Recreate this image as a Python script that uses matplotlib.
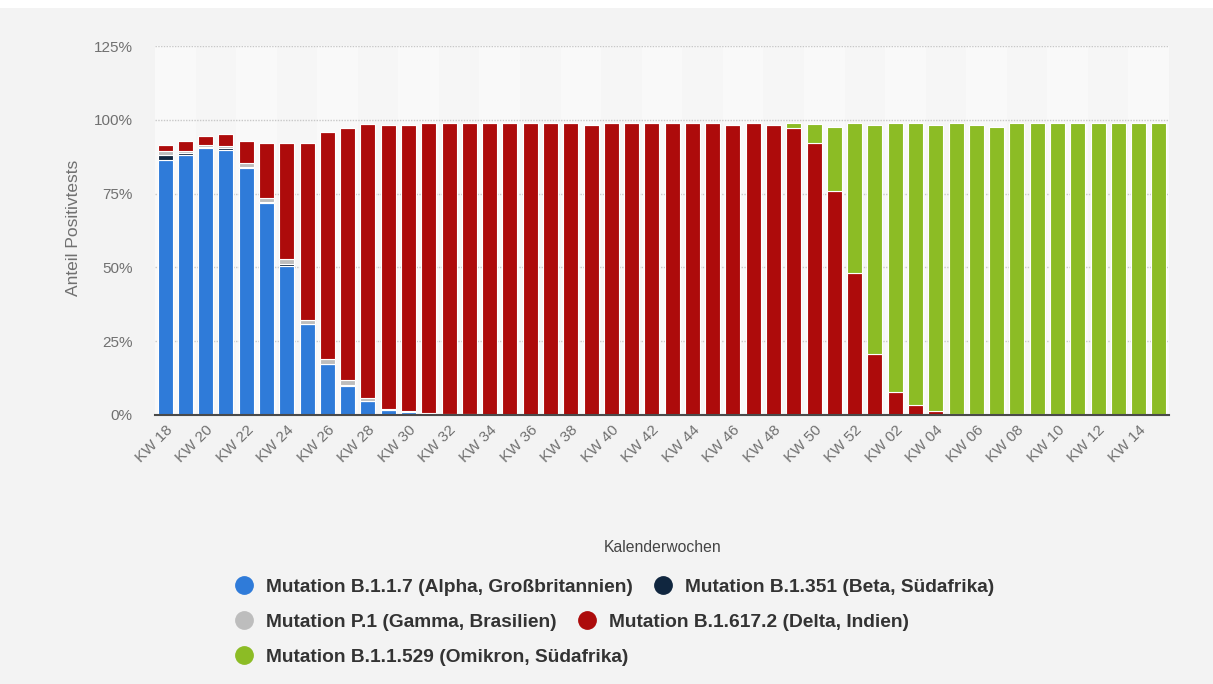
import numpy as np
import matplotlib.pyplot as plt
from matplotlib.lines import Line2D
from matplotlib.patches import Rectangle

plt.rcParams['font.family'] = ['Liberation Sans', 'DejaVu Sans']

# Kalenderwochen KW 18/2021 bis KW 15/2022
weeks = ["KW %02d" % w for w in list(range(18, 53)) + list(range(1, 16))]

alpha = [86.4, 88.1, 90.4, 89.8, 83.6, 71.8, 50.6, 30.7, 17.2, 9.9,
         4.7, 1.7, 1.0, 0.6, 0.3, 0.2] + [0] * 34
beta = [1.8, 0.5, 0.3, 0.6, 0.3, 0.2, 0.5, 0.2, 0.1, 0.1,
        0.1] + [0] * 39
gamma = [1.2, 0.8, 0.6, 0.8, 1.5, 1.5, 1.8, 1.4, 1.6, 1.7,
         1.0, 0.5, 0.4, 0.1] + [0] * 36
delta = [2.1, 3.4, 3.3, 3.9, 7.4, 18.6, 39.2, 59.8, 77.1, 85.5,
         92.7, 96.1, 96.9, 98.2, 98.6, 98.7, 99.0, 99.0, 99.0, 98.9,
         98.9, 98.3, 98.9, 98.9, 98.9, 98.9, 98.9, 98.9, 98.3, 98.9,
         98.3, 97.3, 92.3, 75.9, 48.0, 20.7, 7.9, 3.4, 1.4, 0.2,
         0.2, 0.1, 0.5, 0.3, 0, 0, 0, 0, 0, 0]
omikron = [0] * 31 + [1.6, 6.2, 21.8, 50.9, 77.6, 91.0, 95.5, 96.9, 98.7,
                      98.1, 97.6, 98.4, 98.6, 98.9, 98.9, 98.9, 98.9, 98.9, 98.9]

series = [
    ("Mutation B.1.1.7 (Alpha, Großbritannien)", alpha, "#2f7bd9"),
    ("Mutation B.1.351 (Beta, Südafrika)", beta, "#10263f"),
    ("Mutation P.1 (Gamma, Brasilien)", gamma, "#bdbdbd"),
    ("Mutation B.1.617.2 (Delta, Indien)", delta, "#ad0b0b"),
    ("Mutation B.1.1.529 (Omikron, Südafrika)", omikron, "#8cbc25"),
]

bg = "#f3f3f3"
fig = plt.figure(figsize=(12.13, 6.84), dpi=100, facecolor=bg)
fig.add_artist(Rectangle((0, 1 - 8 / 684), 1, 8 / 684, transform=fig.transFigure,
                         facecolor="white", edgecolor="none"))
ax = fig.add_axes([155 / 1213, 1 - 415 / 684, (1169 - 155) / 1213, (415 - 46) / 684])
ax.set_facecolor("#f6f6f6")

x = np.arange(len(weeks))
for i in range(0, len(weeks), 4):
    ax.axvspan(i - 0.5, i + 1.5, color="#f9f9f9", zorder=0, lw=0)

bottom = np.zeros(len(weeks))
for name, vals, col in series:
    vals = np.array(vals, dtype=float)
    ax.bar(x, vals, width=0.74, bottom=bottom, color=col, edgecolor="white",
           linewidth=0.8, zorder=3)
    bottom += vals

ax.set_xlim(-0.5, len(weeks) - 0.5)
ax.set_ylim(0, 125)
ax.set_yticks([0, 25, 50, 75, 100, 125])
ax.set_yticklabels(["0%", "25%", "50%", "75%", "100%", "125%"])
ax.yaxis.grid(True, linestyle=(0, (1, 1)), color="#c8c8c8", linewidth=1, zorder=1)
ax.tick_params(axis="y", length=0, pad=16, labelsize=11, labelcolor="#707070")

ax.set_xticks(x[::2])
ax.set_xticklabels(weeks[::2], rotation=45, ha="right", rotation_mode="anchor")
ax.tick_params(axis="x", length=0, pad=6, labelsize=11, labelcolor="#707070")

for s in ["top", "right", "left"]:
    ax.spines[s].set_visible(False)
ax.spines["bottom"].set_color("#4a4a4a")
ax.spines["bottom"].set_linewidth(1.5)
ax.spines["bottom"].set_zorder(4)

fig.text(73 / 1213, 1 - 228 / 684, "Anteil Positivtests", fontsize=12.5, color="#707070",
         rotation=90, ha="center", va="center")
fig.text(663 / 1213, 1 - 547 / 684, "Kalenderwochen", fontsize=11.3, color="#444444",
         ha="center", va="center")

# Legende in drei Zeilen
rows = [[0, 1], [2, 3], [4]]
row_y = [587, 622, 657]
for idx, yy in zip(rows, row_y):
    handles = [Line2D([], [], marker="o", linestyle="none", markersize=12.5,
                      markerfacecolor=series[k][2], markeredgecolor=series[k][2])
               for k in idx]
    labels = [series[k][0] for k in idx]
    leg = fig.legend(handles, labels, loc="center left",
                     bbox_to_anchor=(236 / 1213, 1 - yy / 684), ncol=len(idx),
                     frameon=False, borderpad=0, borderaxespad=0,
                     handlelength=0.87, handletextpad=0.72, columnspacing=1.1,
                     prop={"weight": "bold", "size": 13.8})
    for t in leg.get_texts():
        t.set_color("#333333")

fig.savefig("out.png", dpi=100, facecolor=bg)
